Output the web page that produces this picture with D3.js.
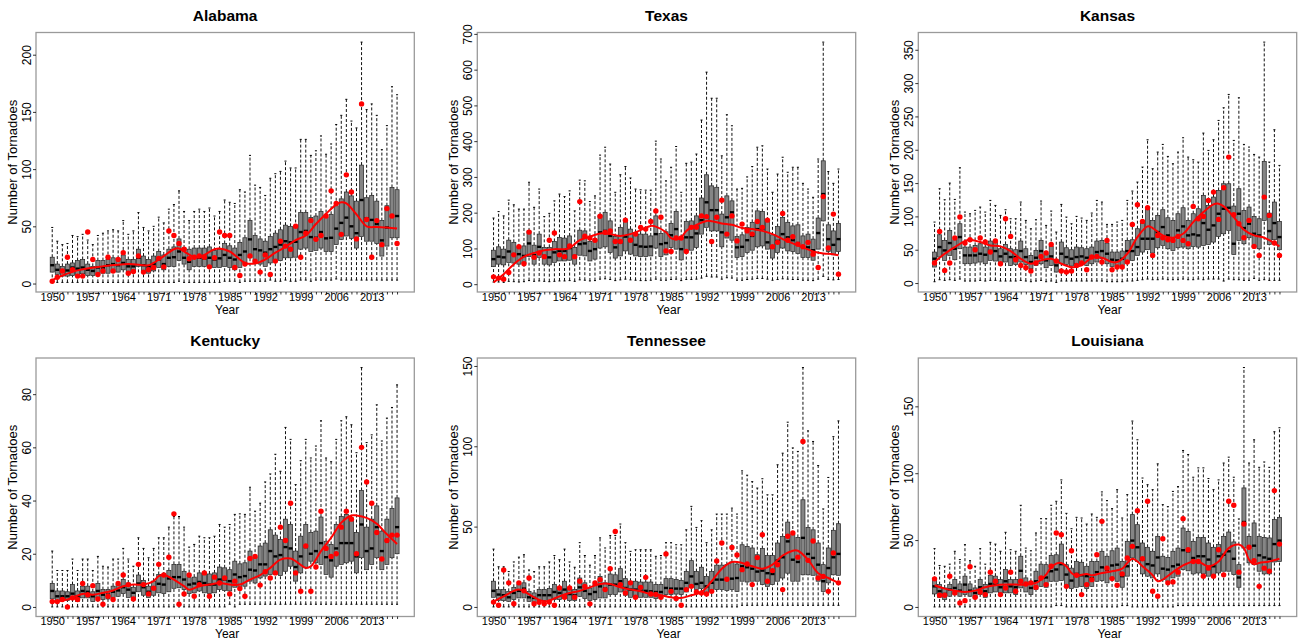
<!DOCTYPE html>
<html><head><meta charset="utf-8">
<script src="https://cdn.jsdelivr.net/npm/d3@7"></script>
<style>body{margin:0;background:#fff}svg{display:block}text{font-family:"Liberation Sans",Arial,sans-serif;fill:#000}</style>
</head><body>
<svg id="chart" width="1303" height="641"></svg>
<script>
// ---------- categories / ticks ----------
const years = d3.range(1950, 2019);
const xTickLabels = [1950,1957,1964,1971,1978,1985,1992,1999,2006,2013];

// ---------- Alabama ----------
const alabamaLow = [1,1,1,1,1,1,1,1,1,1, 1,1,1,1,1,1,1,1,1,1, 1,1,1,1,1,2,1,1,1,1, 1,1,1,1,2,2,2,1,2,2, 2,2,2,3,2,2,3,2,2,3, 3,2,3,3,3,3,4,3,3,3, 3,3,3,3,3,3,3,3,3];
const alabamaQ1 = [10,8,6.5,6.5,7,7,8.5,7,7,8,9,9,10,10,12,9,10,15,11,9,11,14,12,15,15,20,17,12,15,15,15,14,14,14,
 15,14,12,14,17,22.5,18,17,15,18,20,20,22.5,22.5,23,30,31,28,29,31,28,28,34,38.6,41.5,39.5,31,41,37,37,35,24,32.7,40,40];
const alabamaMedian = [16,12,11,11.4,14,13,14,12,11,14,14,16,17,16,18,15,15,22.5,16,15,17,21,17,22.5,23,28,22.5,19,22.5,22.5,22,22.5,21,22,
 25,22.5,21,25,28,38.6,30,29,27,30,32,34,37,36,36.5,45,46,40.6,40,45,39.5,40,48,53,57.6,50,44,73,57,55.6,52,37.7,49,59,59];
const alabamaQ3 = [23,17,15,17,18,20,21,17,15,20,20,21,22.5,22,25,21,21,30,24,21,24,28,25,30,32,39,31,30,31,31,31,32,29,30,
 35,33,31,36,40,55,42,39,37,41,44,47,51,50,49,62,62,57.6,59,63,57.6,60.5,68,74,80,76.6,72,103.5,75,77,72,55,68,84,82];
const alabamaHigh = [49,37,34,35,42,41,43,38,34,42,44,46,47,46,55,43,46,62,49,46,50,58,53,65,69,81,63,55,63,65,63,66,59,63,
 73,71,70,82,80,112,86,84,77,92,96,98,107,101,101,126,126,112,116,129,113,122,139,147,161,142,136,211,152,157,147,117,138,172,165];
const alabamaObserved = [2,5.5,11,23,12,6.5,6.5,45,21,8,11,23,11,21,27,9,10.5,24,10,12,14,22,14.6,46,42,35,30,21.6,23,24,23,14.6,22.5,45,
 42,42,14,7,17,24,19.6,10,25,8,19.6,37,32.7,30,50,23,44,55,38.6,42,59,81,70,43,95,80,39,157,56,23,55,34,65.5,59,35];
const alabamaSmoothYears = [1950,1952,1955,1960,1965,1969,1970,1972,1974,1975,1976,1978,1979,1980,1982,1983,1985,1987,1988,1990,1992,1994,1996,1998,2000,2002,2004,2006,2007,2008,2010,2012,2014,2016,2018];
const alabamaSmoothValues = [3,7,11.5,15,17,16,18,24,30,30.7,28,23,23,25,30,30.7,28,21,18,17.5,21,27,32,38,42,52,61,69,71,70,60.5,50,49.4,49,48];
const alabamaTicks = [0,50,100,150,200];

// ---------- Texas ----------
const texasLow = [6,6,5,8,7,6,7,10,8,9, 8,7,8,9,9,10,8,12,11,9, 10,14,15,13,10,12,14,12,11,10, 10,11,14,11,11,13,14,10,13,13, 14,17,22,20,20,14,18,17,11,11, 13,14,16,16,14,11,13,15,14,13, 13,11,11,10,14,22,13,12,13];
const texasQ1 = [49,56,54,61,59,56,58,77,56,75,56,54,61,65,65,67,56,81,79,65,70,101,104.5,89,73,79,93,84,79,77,77,79,101,
 77,82,103,98,68,93,95,103,140,159,149,149,104.5,129,123,75,77,89,95,104.5,107,98,73,89,101,93,91.5,86,75,75,67,98,177,91.5,82,91.5];
const texasMedian = [70,77,75,91.5,84,84,79,114,81,104.5,79,75,89,93,93,101,79,112,114,93,98,145,149,135,103,117,133,121,110,105.5,104.5,105.5,140,
 112,115,137,154,98,131,131,142,179,229,207,207,145,187,201,103,104.5,123,135,154,156,117,103,121,140,131,123,115,104.5,103,95,143,252,126,110,126];
const texasQ3 = [95,104.5,98,123,117,104.5,107,149,109,140,103,103,119.5,131,129,135,103,151,149,119.5,126,193,201,177,133,159,179,154,145,140,140,135,191,
 142,146.6,170,203,131,175.5,177,191,241,306,275,271,196,247,233,133,138,159,173,205,203,179,138,161,187,173,163,166,135,140,126,185,345,166,149,170];
const texasHigh = [185,203,191,235,222,210,210,285,215,266,189,198,233,252,245,261,205,291,289,231,247,361,383,336,257,306,329,297,266,264,263,263,400,
 350,289,327,385,257,338,341,364,459,593,520,520,359,474,443,266,268,300,329,383,387,322,257,308,355,313,327,327,282,266,243,350,677,315,282,322];
const texasObserved = [20.5,17,14,33,82,104.5,57,145.6,75,87,77,123,143,82,77,107,77,231,134,129,123,190,145,149,119.5,119.5,179,123,140,159,154,175.5,205,
 187,93,91.5,129,129,91.5,159,159,191,189,119.5,187,235,140,191,121,168,149,140,175.5,159,179,104.5,117,198,123,132.6,112,104.5,117,84,46.7,245,101,196,28];
const texasSmoothYears = [1950,1952,1954,1956,1958,1960,1962,1964,1965,1967,1969,1971,1973,1975,1977,1979,1981,1982,1984,1985,1986,1987,1988,1990,1992,1993,1995,1997,1999,2001,2003,2005,2007,2009,2011,2013,2015,2017,2018];
const texasSmoothValues = [5,28,56,77,87,95,98,98,101,123,132.6,142,140,135,140,151,163,161,145,129,126,131,149,166,177,176,170,166,157,154,149,140,126,114,103,91.5,86,84,81];
const texasTicks = [0,100,200,300,400,500,600,700];

// ---------- Kansas ----------
const kansasLow = [2,5,4,5,4,6,3,3,3,4, 3,4,4,3,3,3,3,4,3,2, 3,4,2,3,1,3,3,3,3,3, 3,3,3,3,2,2,2,2,3,3, 4,5,6,5,5,6,5,5,5,6, 5,5,6,5,6,6,6,3,6,5, 5,4,4,7,4,5,4,4,4];
const kansasQ1 = [24,39,34,41.5,35,51.5,29,29,30,31.5,29,34,33,29,31.5,26.5,28,31.5,28,21.5,26.5,29,23,26.5,16.5,29,28,25.5,29,28,26.5,29,
 31.5,36.5,29,25,24,26.5,31.5,34,41.5,46.5,50,45,53,56.5,51.5,49,53,54,51.5,55,54,56.5,58,61.5,70,74,79,43,64,59,68,54,51.5,94,58,65,50];
const kansasMedian = [36.5,54,49,60,51.5,69,41.5,41.5,41.5,44,42.5,48,48,40,44,39,39,48,39,31.5,38,48,34,40,26.5,44,39,36.5,39,40,38,40,
 46.5,48,44,35,34,36.5,48,48,54,66.5,66.5,66.5,76.5,84,71.5,65,79,85,71.5,73,71.5,90,80,86.5,104,111.5,113,59,104,82.5,89,74,71.5,129,78,90,69];
const kansasQ3 = [46.5,72.5,64,79,65,89,54,54,56.5,59,54,63,61.5,51.5,58,51.5,50,63,51.5,41.5,49,64,44,55,35,61.5,53,50,54,53,51.5,54,
 63,64,60,46.5,46.5,48,64,65,81.5,90,111.5,94,101.5,110,98,94,104,113,94,104,111.5,131.5,116.5,129,139,149,149,115.5,141.5,109,114,100,96.5,182.5,105,121.5,92.5];
const kansasHigh = [91.5,141.5,125,150,125.5,173,106.5,104,109,114,106.5,124,116.5,101.5,110,96.5,96.5,121.5,94,81.5,95,123,86.5,108,76.5,118,99,89,100,97.5,94,105,
 124,121.5,88,88,91.5,94,124,138,151.5,174,215,171.5,196.5,208,190,179,196.5,218,189,185,181.5,225,199,215,244,263,283,214,278,208,204,193,189,361.5,181.5,230,176.5];
const kansasObserved = [30,77.5,19,30,67.5,99,60,65,50,67.5,61.5,46.5,63,29,96.5,70,35,26.5,23,18,30,40,45,58,33,18,16.5,18,26.5,30,20,39,
 40,31.5,64,20,24,24,31.5,88,117.5,92.5,113,41.5,71.5,68,65,64,70,64,59,115,96.5,100,124,136.5,95.5,143,189,102.5,89,68,94,55,41.5,129,101.5,60,41.5];
const kansasSmoothYears = [1950,1952,1954,1956,1957,1959,1961,1963,1965,1967,1969,1971,1973,1975,1977,1979,1981,1983,1985,1986,1988,1990,1992,1993,1995,1997,1999,2001,2003,2005,2006,2007,2009,2011,2013,2015,2017,2018];
const kansasSmoothValues = [31.5,44,54,63,65,61.5,56.5,55,48,36.5,29,34,36.5,29,24,26.5,38,38,31.5,31.5,44,69,85,82.5,71.5,68,74,91.5,106.5,118,119,115,99,80,71.5,68,60,55];
const kansasTicks = [0,50,100,150,200,250,300,350];

// ---------- Kentucky ----------
const kentuckyLow = [0,0,0,0,0,0,0,0,0,0, 0,0,0,0,0,0,0,0,0,0, 0,0,0,0,0,0,0,0,0,0, 0,0,0,0,0,1,0,1,1,1, 1,1,1,1,1,1,1,1,1,1, 1,1,1,1,1,1,1,1,1,1, 1,1,1,1,1,1,1,1,1];
const kentuckyQ1 = [3,2,2.4,2.4,3,2,3.4,3.4,2,3.4,2.8,3,3.6,4,5,3.6,3.4,5.7,4.4,3.6,4.4,5.3,5,5.7,7,7.2,6.5,5,5.3,6,5.3,5,5.3,6.5,
 6.2,6,7.4,7.4,7.8,9.7,9,10.9,11.6,12.2,12.2,11.8,13.4,15.3,9.7,12.8,14.7,17.2,16.6,16,12.2,11.2,15.3,16,16.6,17.2,12.8,18.5,14,16,18.5,14,16,18.5,20];
const kentuckyMedian = [6,4,4,4,5,4,6,5.7,4,6,4.6,4.6,5.7,6.2,7.4,6.5,5.3,8.8,7.4,5.7,7.2,8.7,8.4,10.7,11.2,11.2,10.3,8.4,8.8,9.4,9,8.4,8.4,10.3,
 10.3,9.7,12.2,11.2,11.6,14,13.7,16,16,21,19,19.5,22.5,22,15,19,22.5,20,21,24,18.7,17.5,22,24,24,24,19,31,21,22,30,21,24.7,27,30];
const kentuckyQ3 = [8.8,6,6,5.7,8.4,6,7.8,7.8,5.7,8.8,6.5,6.5,7.8,8.4,10.3,9,7.4,12,10,7.8,9.7,12.2,12,13.7,16,16,13.4,11,11.2,12.8,12.8,12.4,12.8,15,
 14.7,14,17.2,16.2,16.6,21,18.7,22.9,24,29,27,25.4,33,31,21,26.6,31,28,28.5,33.8,24.7,23.5,31,34,34.8,33.5,28,43.8,30,33,38,28.5,33,37,41];
const kentuckyHigh = [21,13.7,13.7,13.7,18,13.7,18,18,13.7,19,15.3,15,18,18,22,18,15.3,26,22,18.5,22,26,26,30,34,34,30,22.5,23.5,26.6,26,26,26.6,31,
 30,31,34.8,35,34.8,45,36,39,47,50,57.4,51,67.5,63,46,55,63,56,60.5,70,56,54.6,63,70,71.5,68.5,58,90,61.8,64.7,76,62.4,71,75,83.5];
const kentuckyObserved = [2,2,2.8,0,3.4,2.8,8.8,4.6,8,3,1,4,2.8,8.8,12,8.4,3,16,8.4,4.9,7,16,12,18.7,35,1,4.9,12,4,8.4,12.8,4,11.2,9,
 10.9,4.9,9.7,6.9,4,18.2,19,8.2,13.2,10.9,12.8,30,25,39,12.8,5.9,22.9,5.9,15,36,22,19,20,30,36,33,20,60,47,39,28,18,25,27,27];
const kentuckySmoothYears = [1950,1953,1956,1958,1960,1962,1964,1966,1968,1970,1971,1972,1974,1976,1977,1979,1981,1983,1985,1987,1989,1991,1993,1995,1997,1998,2000,2001,2003,2005,2007,2009,2010,2012,2014,2016,2018];
const kentuckySmoothValues = [2,2.8,4.9,4.6,5.3,6.2,7.8,8.4,8.4,9.7,11.6,12,10.3,7.8,6.5,7.8,8.4,9,8.4,8.4,10.3,12,14.7,17.8,18.2,17.2,14.7,15.3,21,26,31.7,34.4,34.4,33.5,31.3,27.3,23.7];
const kentuckyTicks = [0,20,40,60,80];

// ---------- Tennessee ----------
const tennesseeLow = [0,0,0,0,0,0,0,0,0,0, 0,0,0,0,0,0,0,0,0,0, 0,0,0,0,0,0,0,0,0,0, 0,0,0,0,0,0,0,0,0,0, 0,0,0,0,0,0,0,0,0,1, 1,1,1,1,1,1,1,1,1,1, 1,1,1,1,1,1,1,1,1];
const tennesseeQ1 = [6,4,4,3.5,4.6,5.6,5.6,3.5,2.5,4,4,4,4.6,4.6,5.2,4,4,6.6,5.2,4,4.6,5.6,5.6,7.7,7.7,9.3,7.3,6,6,6,6,6,5.2,
 5.6,7.7,7.7,8,7.7,9.3,12.2,10.8,11.4,8.7,9.7,10.8,10.8,10.2,10.8,9.7,16,15.5,16,16,13.9,12.8,13.9,16,18,21,16,16,20,20,19.7,16,9.7,15,20,19.7];
const tennesseeMedian = [10,7.7,7.3,6,8.7,10,11.4,6,5.6,7.3,7.3,7.3,9.3,8.7,10.8,8,7.3,12.2,10,8,9.3,12.8,11.4,13.9,13.9,16,11.8,10.8,10.8,10,10,9.7,9.3,
 9.3,11.8,11.4,11.4,11.4,15,19,14.3,15,12.8,15,17,17,17,17.6,18,25.3,24.7,23.8,22,22.6,21,20.5,28.8,30.9,40.8,29.4,28,43,33,30.5,26.3,16,24.2,30.9,33];
const tennesseeQ3 = [16,10.8,10.8,9.7,12.2,14.3,15,9.7,8.7,10.8,10.8,11.4,13.9,12.2,16,12.2,10.8,18,15,11.8,14.3,19,15,20.5,20,23.8,17.6,16,16,15.5,15.5,15.5,13.9,
 13.9,17.6,17.6,17,16.4,22,28.8,22,24.7,19,22,26,26,26.3,28,26.7,38.7,37.7,36.7,32.5,36.3,32,32,39.8,43.9,52.8,45.4,43.3,66.7,49.5,48,39.8,26.3,36.7,47.7,51.8];
const tennesseeHigh = [36,25,25,22,28,31,32.5,23,22,25,25,28,32,29.4,36,28,24.7,40,32,26,32,43,36.7,44.5,44.5,51.6,40,34.6,35.6,35.6,35.6,35.6,31.5,
 32,40,40,38.7,38.7,48,62.6,49.5,53.7,40,48,57.8,57.8,57.8,61.5,57.8,84.7,82,78,74,79.8,69.8,69.8,88.5,95.7,115,99,96.8,149,109.6,103,88,61,80.6,106,115.8];
const tennesseeObserved = [3,1,23,15,2,15,10,18,2,2.9,2,3,1,11.8,6,11.8,6,16,12.8,1.9,15,17,10.8,23.8,47,13.9,8.7,15,6,12.2,18.4,8,7.7,
 6,33,9.7,5.2,1,10.8,12.8,9.3,8.7,8,9.7,28.6,39.8,17.2,37,32.3,23.2,26.7,13.9,30.7,44.9,16,22.6,26.3,10.8,44,46,31,103,29,41,18,19,9.7,33.6,15];
const tennesseeSmoothYears = [1950,1952,1954,1955,1956,1958,1960,1961,1963,1965,1967,1969,1971,1973,1975,1977,1979,1981,1983,1985,1987,1989,1991,1993,1995,1997,1999,2001,2003,2005,2007,2009,2010,2012,2014,2016,2018];
const tennesseeSmoothValues = [3.5,6.6,10,10.8,9.7,6,3.5,4,6.6,8.7,10,12.2,14.3,14.3,12.2,10.8,9.7,8,7.3,6,5.6,7.3,9.3,16,23.8,28,27.4,25.3,23.8,26.3,32,35,35,29.4,21,18,15];
const tennesseeTicks = [0,50,100,150];

// ---------- Louisiana ----------
const louisianaLow = [0,0,0,0,0,0,0,0,0,0, 0,0,0,0,0,0,0,0,0,0, 0,0,0,0,1,1,0,0,0,0, 0,0,0,0,0,0,0,1,1,0, 0,0,0,0,0,0,0,0,1,1, 1,1,1,1,1,1,1,1,1,1, 1,1,1,1,1,1,1,1,1];
const louisianaQ1 = [9.7,7.2,5.5,8,9.2,8,9.2,8,6.7,9.2,7.2,10.5,11.2,10.5,10.5,10.5,9.2,14.2,11.2,9.2,13,15.4,14.7,19.2,19.2,19.7,15.4,13.7,14.7,15.4,13.7,15.4,
 19.2,19.7,18,21,19.2,14.7,23,36.6,34,24.7,23,21.7,24.7,20.4,19.2,21.7,23,28,27,24.7,25.4,24.7,23,23,25.4,26.7,26.7,24.2,14.7,44,33,31.6,26.7,24.7,24.7,33.6,34];
const louisianaMedian = [15.4,11.7,9.7,13,14.2,12.2,16.7,12.2,10.5,14.7,11.7,17.2,16.7,14.7,19.2,15.4,14.7,27,16.7,14.2,19.2,21.7,22,26.7,28,32,24.2,19.7,24.7,23.7,23,21.7,
 26,29.6,27.9,31,31.6,23,30.4,49.6,44.6,35.4,32,31,37,28.6,27.9,30.4,31.6,42.4,41.6,36.6,37.9,37.9,35.4,30.4,37.9,39,41.6,36,22,63.5,45.3,45.8,38.6,37,36,47,49.6];
const louisianaQ3 = [20.4,16.7,14.2,16.7,20.4,17.2,23,17.2,14.2,20.4,16.7,23.7,23,20.4,28,20.4,20.4,37.9,21.7,19.2,26.7,32,31.6,38.4,39,47,31.6,29,34,33.4,30.4,34,
 34,41.6,37.9,42,44,34,49,69,61.5,47.8,44.6,41.6,52.8,37.9,37,41.6,44,59,56.5,49,52,52,47.8,44.6,46.6,52.8,56,48.6,31.6,89,52.8,62.8,52.8,52,51.6,65.3,67];
const louisianaHigh = [43.6,31,30.4,32,41.6,35.4,46.6,34.6,30.4,43.6,32,48.3,47,41.6,55.8,42.8,41.6,76,44,42,55.3,66,66,76,79,95,70,58.5,67,66.5,62,69.5,
 67,86,79.5,73.5,87.7,66.5,84,139,125,96.4,91.4,87.7,107,76.5,75,86.4,90,117,114,97,104,104,96,87.7,95,107.6,112,97,65.8,179,107.6,125,104.4,108.4,104.4,131,134];
const louisianaObserved = [21,8.7,8.7,23,10.5,3,4.7,30,7.2,11.2,9.2,26,19.2,9.2,14.2,26,11.7,19.2,17.2,18,14.7,21.7,16.7,30.4,55.3,54,15.4,42,23.7,9.2,16.7,20.4,
 39,64,29,21.2,16.2,24.7,36.6,45.3,72,36,79,11.7,8,51,18,18.7,26,66,42.8,34,34,23,29,23,42.8,24,79,76,26,62,44.6,34.6,15.4,29,26.7,87,47];
const louisianaSmoothYears = [1950,1952,1954,1956,1958,1960,1962,1964,1966,1968,1970,1971,1972,1973,1974,1975,1976,1977,1978,1980,1981,1983,1985,1987,1988,1989,1990,1991,1993,1994,1995,1997,1999,2001,2002,2004,2006,2008,2010,2011,2012,2013,2014,2016,2018];
const louisianaSmoothValues = [16.2,13.7,12.2,11.2,12.2,14.7,16.2,16.7,16.7,16.7,18,20.4,24.2,29.6,32.4,32.9,30.4,25.4,23.4,24.7,23.7,25.4,26.7,28.6,32.9,36,34,30.4,23.7,19.2,20.4,26,31,34,34,30.4,34,44,46.6,44,35.4,32,32.9,34,36];
const louisianaTicks = [0,50,100,150];

// ---------- layout ----------
const panels = [
  {name:"Alabama", low:alabamaLow, q1:alabamaQ1, med:alabamaMedian, q3:alabamaQ3, high:alabamaHigh, obs:alabamaObserved, sx:alabamaSmoothYears, sy:alabamaSmoothValues, ticks:alabamaTicks, frame:[36,32.5,414.3,292]},
  {name:"Texas", low:texasLow, q1:texasQ1, med:texasMedian, q3:texasQ3, high:texasHigh, obs:texasObserved, sx:texasSmoothYears, sy:texasSmoothValues, ticks:texasTicks, frame:[477.3,32.5,855.7,292]},
  {name:"Kansas", low:kansasLow, q1:kansasQ1, med:kansasMedian, q3:kansasQ3, high:kansasHigh, obs:kansasObserved, sx:kansasSmoothYears, sy:kansasSmoothValues, ticks:kansasTicks, frame:[918.3,32.5,1296.7,292]},
  {name:"Kentucky", low:kentuckyLow, q1:kentuckyQ1, med:kentuckyMedian, q3:kentuckyQ3, high:kentuckyHigh, obs:kentuckyObserved, sx:kentuckySmoothYears, sy:kentuckySmoothValues, ticks:kentuckyTicks, frame:[36,358,414.3,616.5]},
  {name:"Tennessee", low:tennesseeLow, q1:tennesseeQ1, med:tennesseeMedian, q3:tennesseeQ3, high:tennesseeHigh, obs:tennesseeObserved, sx:tennesseeSmoothYears, sy:tennesseeSmoothValues, ticks:tennesseeTicks, frame:[477.3,358,855.7,616.5]},
  {name:"Louisiana", low:louisianaLow, q1:louisianaQ1, med:louisianaMedian, q3:louisianaQ3, high:louisianaHigh, obs:louisianaObserved, sx:louisianaSmoothYears, sy:louisianaSmoothValues, ticks:louisianaTicks, frame:[918.3,358,1296.7,616.5]}
];

const svg = d3.select("#chart");
const xDomain = [1946.8, 2021.4];
const FONT = '"Liberation Sans",Arial,sans-serif';

function drawPanel(p){
  const [L,T,R,B] = p.frame;
  const x = d3.scaleLinear().domain(xDomain).range([L,R]);
  const all = p.low.concat(p.high, p.obs);
  const lo = d3.min(all), hi = d3.max(all), pad = (hi-lo)*0.04;
  const y = d3.scaleLinear().domain([lo-pad, hi+pad]).range([B,T]);
  const g = svg.append("g");
  const step = x(1951)-x(1950), bw = step*0.8, sw = bw*0.5;

  const rows = years.map((yr,i)=>({yr, low:p.low[i], q1:p.q1[i], med:p.med[i], q3:p.q3[i], high:p.high[i]}));
  const bx = g.append("g").selectAll("g").data(rows).join("g");
  bx.append("line").attr("x1",d=>x(d.yr)).attr("x2",d=>x(d.yr)).attr("y1",d=>y(d.q3)).attr("y2",d=>y(d.high))
    .attr("stroke","#111").attr("stroke-width",1).attr("stroke-dasharray","3,2");
  bx.append("line").attr("x1",d=>x(d.yr)).attr("x2",d=>x(d.yr)).attr("y1",d=>y(d.low)).attr("y2",d=>y(d.q1))
    .attr("stroke","#111").attr("stroke-width",1).attr("stroke-dasharray","3,2");
  bx.append("line").attr("x1",d=>x(d.yr)-sw/2).attr("x2",d=>x(d.yr)+sw/2).attr("y1",d=>y(d.high)).attr("y2",d=>y(d.high))
    .attr("stroke","#000").attr("stroke-width",1);
  bx.append("line").attr("x1",d=>x(d.yr)-sw/2).attr("x2",d=>x(d.yr)+sw/2).attr("y1",d=>y(d.low)).attr("y2",d=>y(d.low))
    .attr("stroke","#000").attr("stroke-width",1);
  bx.append("rect").attr("x",d=>x(d.yr)-bw/2).attr("width",bw).attr("y",d=>y(d.q3)).attr("height",d=>y(d.q1)-y(d.q3))
    .attr("fill","#858585").attr("stroke","#222").attr("stroke-width",0.7);
  bx.append("line").attr("x1",d=>x(d.yr)-bw/2).attr("x2",d=>x(d.yr)+bw/2).attr("y1",d=>y(d.med)).attr("y2",d=>y(d.med))
    .attr("stroke","#000").attr("stroke-width",2.4);

  const sm = p.sx.map((yr,i)=>[yr,p.sy[i]]);
  g.append("path").datum(sm).attr("fill","none").attr("stroke","#ff0000").attr("stroke-width",2)
    .attr("d", d3.line().x(d=>x(d[0])).y(d=>y(d[1])).curve(d3.curveCatmullRom.alpha(0.5)));

  g.append("g").selectAll("circle").data(years.map((yr,i)=>({yr, v:p.obs[i]}))).join("circle")
    .attr("cx",d=>x(d.yr)).attr("cy",d=>y(d.v)).attr("r",2.7).attr("fill","#ff0000");

  g.append("rect").attr("x",L).attr("y",T).attr("width",R-L).attr("height",B-T)
    .attr("fill","none").attr("stroke","#9a9a9a").attr("stroke-width",1.3);

  const xa = g.append("g").attr("transform",`translate(0,${B})`)
    .call(d3.axisBottom(x).tickValues(years).tickSize(2.5).tickPadding(0)
      .tickFormat(d => xTickLabels.includes(d) ? String(d) : ""));
  xa.select(".domain").remove();
  xa.selectAll(".tick line").attr("stroke","#000").attr("stroke-width",0.8);
  xa.selectAll("text").attr("y",8.5).attr("dy",null).attr("font-size","11px").attr("fill","#000")
    .style("font-family",FONT);

  const ya = g.append("g").attr("transform",`translate(${L},0)`)
    .call(d3.axisLeft(y).tickValues(p.ticks).tickSize(3));
  ya.select(".domain").remove();
  ya.selectAll(".tick line").attr("stroke","#000").attr("stroke-width",0.8);
  ya.selectAll("text").attr("transform","rotate(-90)").attr("x",0).attr("y",-9.5).attr("dy","0.35em")
    .attr("text-anchor","middle").attr("font-size","12px").attr("fill","#000")
    .style("font-family",FONT);

  g.append("text").attr("x",(L+R)/2).attr("y",T-12).attr("text-anchor","middle")
    .attr("font-size","15.5px").attr("font-weight","bold").text(p.name);
  g.append("text").attr("x",(L+R)/2+2).attr("y",B+21.7).attr("text-anchor","middle")
    .attr("font-size","12px").text("Year");
  g.append("text").attr("transform",`translate(${L-24},${(T+B)/2}) rotate(-90)`).attr("dy","0.35em")
    .attr("text-anchor","middle").attr("font-size","13px").text("Number of Tornadoes");
}
panels.forEach(drawPanel);
</script>
</body></html>
